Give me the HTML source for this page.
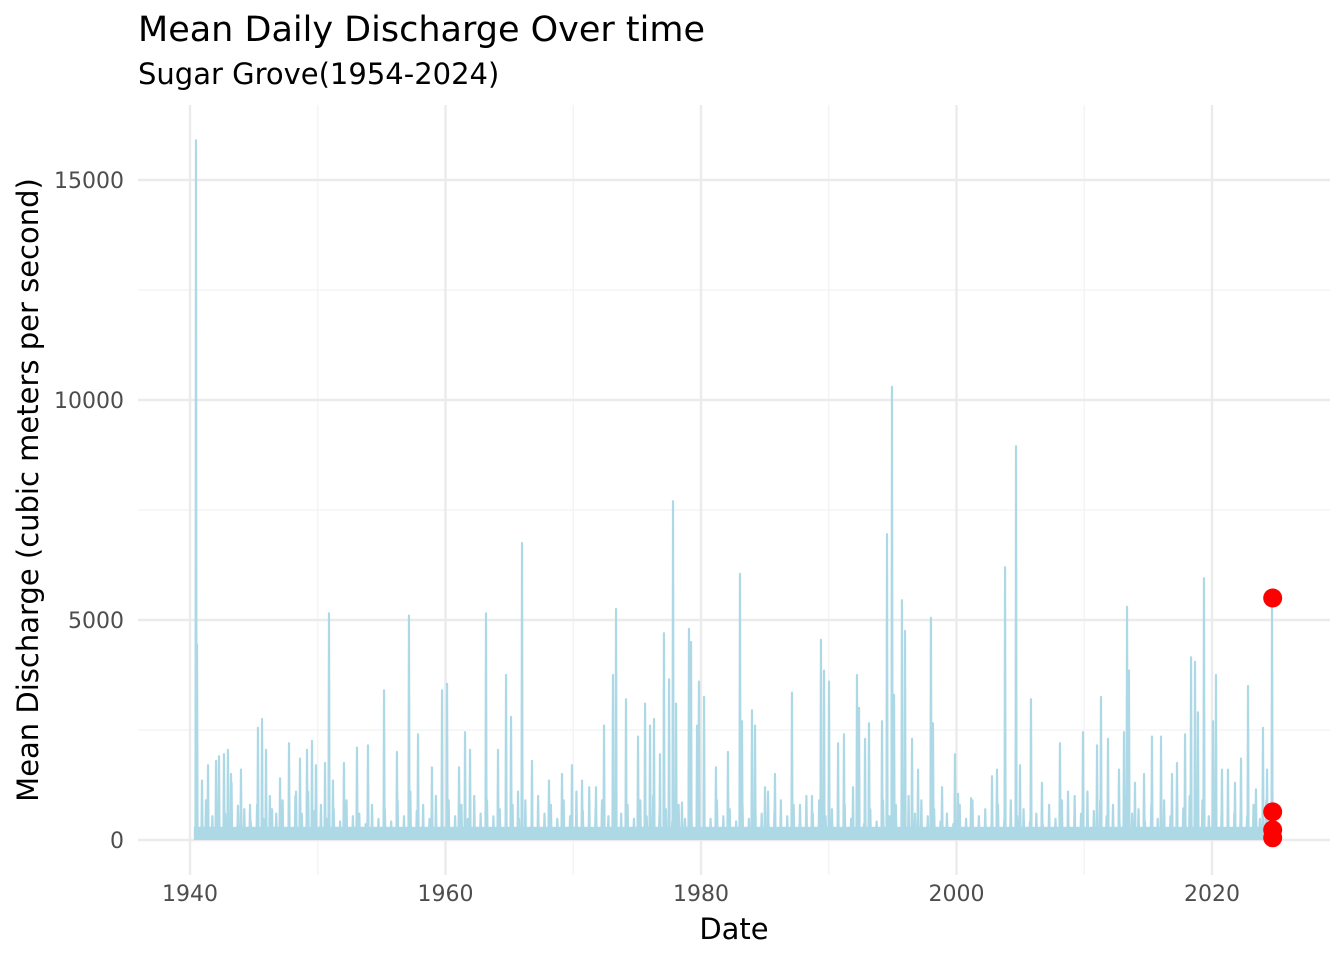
<!DOCTYPE html>
<html><head><meta charset="utf-8"><style>
body{margin:0;background:#fff;font-family:"DejaVu Sans","Liberation Sans",sans-serif}
</style></head><body>
<svg id="chart" width="1344" height="960" xmlns="http://www.w3.org/2000/svg" font-family="DejaVu Sans, Liberation Sans, sans-serif">
<text x="138" y="41" font-size="35" fill="#000">Mean Daily Discharge Over time</text>
<text x="138" y="84" font-size="29" fill="#000">Sugar Grove(1954-2024)</text>
<g id="grid"></g>
<g id="series"></g>
<g id="axes"></g>
<text x="734" y="939" font-size="29" text-anchor="middle" fill="#000">Date</text>
<text transform="translate(38,490) rotate(-90)" font-size="29" text-anchor="middle" fill="#000">Mean Discharge (cubic meters per second)</text>
</svg>
<script>
const peakDates=[1940.47,1940.55,1940.94,1941.41,1942.04,1942.27,1942.66,1942.97,1943.21,1943.99,1944.70,1945.32,1945.64,1945.95,1946.42,1947.05,1947.75,1948.30,1948.61,1949.16,1949.55,1949.86,1950.57,1950.88,1951.19,1952.05,1953.07,1953.93,1955.19,1956.20,1957.14,1957.85,1958.94,1959.73,1960.12,1961.06,1961.53,1961.92,1963.17,1964.11,1964.74,1965.13,1965.68,1965.99,1966.77,1968.10,1969.12,1969.90,1970.69,1971.78,1972.41,1973.11,1973.35,1974.13,1975.07,1975.62,1976.01,1976.32,1976.79,1977.10,1977.50,1977.81,1978.05,1978.51,1979.06,1979.22,1979.69,1979.84,1980.24,1981.17,1982.11,1983.05,1983.21,1983.99,1984.23,1985.01,1985.79,1987.12,1987.75,1988.69,1989.39,1989.63,1990.02,1990.73,1991.19,1991.90,1992.21,1992.37,1992.84,1993.15,1994.17,1994.56,1994.95,1995.11,1995.73,1995.97,1996.52,1996.99,1998.00,1998.16,1998.87,1999.88,2000.12,2001.14,2002.78,2003.17,2003.80,2004.66,2004.97,2005.83,2006.69,2008.10,2008.73,2009.90,2011.00,2011.31,2011.86,2012.72,2013.11,2013.35,2013.50,2013.97,2014.68,2015.30,2016.01,2016.87,2017.26,2017.89,2018.36,2018.67,2018.90,2019.37,2020.08,2020.31,2020.78,2021.25,2021.80,2022.27,2022.82,2023.44,2023.99,2024.31,2024.70];
const peakValues=[15900,4450,1350,1700,1800,1900,1950,2050,1500,1600,800,2550,2750,2050,700,1400,2200,1100,1850,2050,2250,1700,1750,5150,1350,1750,2100,2150,3400,2000,5100,2400,1650,3400,3550,1650,2450,2050,5150,2050,3750,2800,1100,6750,1800,1350,1500,1700,1350,1200,2600,3750,5250,3200,2350,3100,2600,2750,1950,4700,3650,7700,3100,850,4800,4500,2600,3600,3250,1650,2000,6050,2700,2950,2600,1200,1500,3350,800,1000,4550,3850,3600,2200,2400,1200,3750,3000,2300,2650,2700,6950,10300,3300,5450,4750,2300,1600,5050,2650,1200,1950,1050,950,1450,1600,6200,8950,1700,3200,1300,2200,1100,2450,2150,3250,2300,1600,2450,5300,3850,1300,1500,2350,2350,1500,1750,2400,4150,4050,2900,5950,2700,3750,1600,1600,1300,1850,3500,1150,2550,1600,5400];
const minorValues=[900,1000,1300,700,800,1000,900,1000,1100,800,700,900,600,800,700,900,1100,800,1000,900,800,1000,900,700,800,900,1000,800,900,1100,1200,900,1000,800,900,1000,700,800,700,800,900,700,800,1000,1100,900,800,1000,900,700,800,600,700,900,800,1000,900,700,600,800,900,700,800,900,700,600,800,900,1000,1100,900,800,1000,700,800,900,1200,1000,900,1100,1000,900,800,900];
const minorStart=1941;
const redDates=[2024.75,2024.75,2024.75,2024.75];
const redValues=[5500,640,230,50];
const yTicks=[0,5000,10000,15000];
const yMinor=[2500,7500,12500];
const xTicks=[1940,1960,1980,2000,2020];
const xMinor=[1950,1970,1990,2010];
const baseLevel=150;

const L=138,R=1330,T=105,B=875;
const xs=d=>190+(d-1940)*(1212-190)/80;
const ys=v=>840-v*(840-620)/5000;
const NS='http://www.w3.org/2000/svg';
function el(tag,attrs,parent){const e=document.createElementNS(NS,tag);for(const k in attrs)e.setAttribute(k,attrs[k]);parent.appendChild(e);return e;}
const grid=document.getElementById('grid'),axes=document.getElementById('axes'),series=document.getElementById('series');
yMinor.forEach(v=>{const l=el('line',{x1:L,x2:R,y1:ys(v),y2:ys(v),stroke:'#f2f2f2','stroke-width':1.2},grid);

});
xMinor.forEach(v=>{const l=el('line',{x1:xs(v),x2:xs(v),y1:T,y2:B,stroke:'#f2f2f2','stroke-width':1.2},grid);

});
yTicks.forEach(v=>{const l=el('line',{x1:L,x2:R,y1:ys(v),y2:ys(v),stroke:'#ebebeb','stroke-width':2.4},grid);


const t=el('text',{x:124,y:ys(v)+8,'text-anchor':'end','font-size':22,fill:'#4d4d4d'},axes);t.textContent=v;

});
xTicks.forEach(v=>{const l=el('line',{x1:xs(v),x2:xs(v),y1:T,y2:B,stroke:'#ebebeb','stroke-width':2.4},grid);


const t=el('text',{x:xs(v),y:901,'text-anchor':'middle','font-size':22,fill:'#4d4d4d'},axes);t.textContent=v;

});
const ev=[];
peakDates.forEach((d,i)=>ev.push([d,peakValues[i]]));
minorValues.forEach((v,i)=>{ev.push([minorStart+i+0.25,v]);ev.push([minorStart+i+0.75,v*0.6]);});
ev.sort((a,b)=>a[0]-b[0]);
let dpath='M'+xs(1940.3)+','+ys(baseLevel);
ev.forEach(([d,v])=>{dpath+=' L'+xs(d-0.04)+','+ys(baseLevel)+' L'+xs(d)+','+ys(v)+' L'+xs(d+0.04)+','+ys(baseLevel);});
dpath+=' L'+xs(2024.8)+','+ys(baseLevel);
const band=el('rect',{x:xs(1940.3),y:ys(300),width:xs(2024.8)-xs(1940.3),height:ys(0)-ys(300),fill:'#add8e6'},series);


const line=el('path',{d:dpath,fill:'none',stroke:'#add8e6','stroke-width':2.2,'stroke-linejoin':'round'},series);


redDates.forEach((d,i)=>{const c=el('circle',{cx:xs(d),cy:ys(redValues[i]),r:9.5,fill:'#ff0000'},series);

});
</script>
</body></html>
